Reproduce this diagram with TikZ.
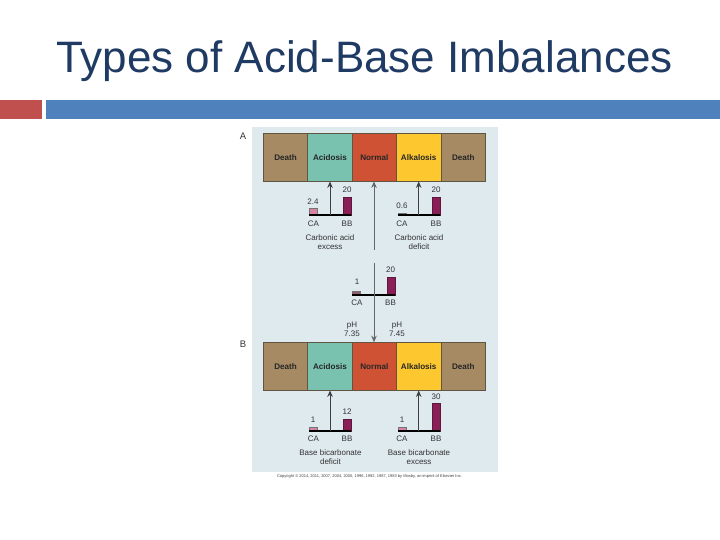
\documentclass[tikz,border=0pt]{standalone}
\usepackage{fontspec}
\setmainfont{Liberation Sans}
\usetikzlibrary{arrows.meta}
\definecolor{titleblue}{HTML}{1F3B63}
\definecolor{redbar}{HTML}{C0504D}
\definecolor{bluebar}{HTML}{4F81BD}
\definecolor{panel}{HTML}{DFEAEF}
\definecolor{deathc}{HTML}{A68A64}
\definecolor{acidc}{HTML}{79C2B0}
\definecolor{normalc}{HTML}{CF5234}
\definecolor{alkc}{HTML}{FDC82F}
\definecolor{bbc}{HTML}{8A1E56}
\definecolor{cac}{HTML}{D883A6}
\definecolor{darkt}{HTML}{333333}
\definecolor{edgec}{HTML}{5F5540}
\tikzset{
  seg/.style={draw=edgec,line width=0.7pt,minimum width=44.4pt,minimum height=47.5pt,inner sep=0pt,anchor=center,font=\fontsize{8.1}{9}\selectfont\bfseries,text=black!85},
  lab/.style={inner sep=0pt,font=\fontsize{8}{9.4}\selectfont,text=darkt,align=center},
  letter/.style={inner sep=0pt,font=\fontsize{9.5}{11}\selectfont,text=darkt},
  axisline/.style={line width=2.2pt,black},
  uparrow/.style={draw=black!75,line width=1pt,-{Stealth[length=6.5pt,width=5.5pt]}},
  midarrow/.style={draw=black!60,line width=1pt,-{Stealth[length=6.5pt,width=5.5pt]}},
  bbbar/.style={fill=bbc,draw=bbc!70!black,line width=0.3pt},
  cabar/.style={fill=cac,draw=black!55,line width=0.3pt},
}
\begin{document}
\begin{tikzpicture}[x=1pt,y=-1pt]
\useasboundingbox (0,0) rectangle (720,540);
\fill[white] (0,0) rectangle (720,540);
\node[anchor=center,inner sep=0pt,text=titleblue,font=\fontsize{44}{50}\selectfont] (title) at (364.5,61) {Types of Acid-Base Imbalances};
\fill[redbar] (0,100) rectangle (42,119);
\fill[bluebar] (46,100) rectangle (720,119);
\fill[panel] (251.7,127) rectangle (498,471.5);
% panel letters
\node[letter] (la) at (243,136) {A};
\node[letter] (lb) at (243,344.5) {B};
% strip A
\node[seg,fill=deathc] (d1) at (285.5,157.3) {Death};
\node[seg,fill=acidc] (ac) at (330,157.3) {Acidosis};
\node[seg,fill=normalc] (no) at (374.3,157.3) {Normal};
\node[seg,fill=alkc] (al) at (418.7,157.3) {Alkalosis};
\node[seg,fill=deathc] (d2) at (463.3,157.3) {Death};
% strip B
\node[seg,fill=deathc] (d3) at (285.5,366.3) {Death};
\node[seg,fill=acidc] (bc) at (330,366.3) {Acidosis};
\node[seg,fill=normalc] (bn) at (374.3,366.3) {Normal};
\node[seg,fill=alkc] (bl) at (418.7,366.3) {Alkalosis};
\node[seg,fill=deathc] (d4) at (463.3,366.3) {Death};
% arrow tails
\coordinate (t1) at (330,215);
\coordinate (t2) at (418.7,215);
\coordinate (t3) at (374,249.5);
\coordinate (t4) at (374,263);
\coordinate (t5) at (330,431);
\coordinate (t6) at (418.7,431);
% bars
\draw[cabar] (309.5,208) rectangle (317,215);
\draw[bbbar] (343,196.7) rectangle (351,215);
\draw[fill=black!70,draw=black!55,line width=0.3pt] (398,213) rectangle (406,215);
\draw[bbbar] (432,196.7) rectangle (440,215);
\draw[cabar,fill=cac!70!black] (352.5,291.3) rectangle (360.5,295);
\draw[bbbar] (387,276.7) rectangle (395,295);
\draw[cabar] (309.5,427) rectangle (317,431);
\draw[bbbar] (343,418.7) rectangle (351,431);
\draw[cabar] (398,427) rectangle (406,431);
\draw[bbbar] (432,403.5) rectangle (440,431);
% axes
\draw[axisline] (309,215) -- (351.3,215);
\draw[axisline] (397.7,215) -- (440,215);
\draw[axisline] (352.3,295) -- (394.7,295);
\draw[axisline] (309,431) -- (351.3,431);
\draw[axisline] (397.7,431) -- (440,431);
% arrows
\draw[uparrow] (t1) -- (ac.south);
\draw[uparrow] (t2) -- (al.south);
\draw[midarrow] (t3) -- (no.south -| t3);
\draw[midarrow] (t4) -- (bn.north -| t4);
\draw[uparrow] (t5) -- (bc.south);
\draw[uparrow] (t6) -- (bl.south);
% labels
\node[lab] (n1) at (313,201.5) {2.4};
\node[lab] (n2) at (347,190) {20};
\node[lab] (n3) at (402,205.5) {0.6};
\node[lab] (n4) at (436,190) {20};
\node[lab] (c1) at (313.5,223.5) {CA};
\node[lab] (b1) at (347,223.5) {BB};
\node[lab] (c2) at (402,223.5) {CA};
\node[lab] (b2) at (436,223.5) {BB};
\node[lab] (e1) at (330,242) {Carbonic acid\\excess};
\node[lab] (e2) at (419,242) {Carbonic acid\\deficit};
\node[lab] (n5) at (357,282) {1};
\node[lab] (n6) at (390.5,270) {20};
\node[lab] (c3) at (357,303) {CA};
\node[lab] (b3) at (390.5,303) {BB};
\node[lab] (p1) at (352,329.5) {pH\\7.35};
\node[lab] (p2) at (397,329.5) {pH\\7.45};
\node[lab] (n7) at (313,419.5) {1};
\node[lab] (n8) at (347,412) {12};
\node[lab] (n9) at (402,419.5) {1};
\node[lab] (n10) at (436,396.5) {30};
\node[lab] (c4) at (313.5,439) {CA};
\node[lab] (b4) at (347,439) {BB};
\node[lab] (c5) at (402,439) {CA};
\node[lab] (b5) at (436,439) {BB};
\node[lab] (e3) at (330.5,457) {Base bicarbonate\\deficit};
\node[lab] (e4) at (419,457) {Base bicarbonate\\excess};
\node[inner sep=0pt,text=black!75,font=\fontsize{4}{4.6}\selectfont] (copy) at (369.5,476.5) {Copyright © 2014, 2011, 2007, 2004, 2000, 1996, 1992, 1987, 1983 by Mosby, an imprint of Elsevier Inc.};
\end{tikzpicture}
\end{document}
